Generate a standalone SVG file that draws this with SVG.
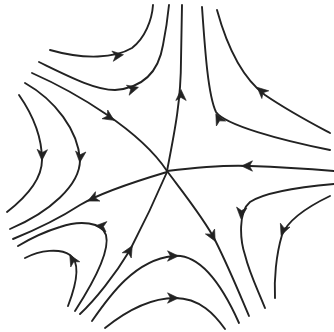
<svg xmlns="http://www.w3.org/2000/svg" width="334" height="332" viewBox="0 0 334 332">
<defs>
<style>
.t{fill:none;stroke:#222;stroke-width:1.9;stroke-linecap:round}
.h{fill:#222;stroke:#222;stroke-width:0.6;stroke-linejoin:round}
</style>
<path id="ah" d="M2.5,0 L-8.5,-5.2 L-5.5,0 L-8.5,5.2 Z"/>
</defs>
<rect width="334" height="332" fill="#fff"/>
<g id="trajectories">
<path class="t" d="M50,50 C85,60 115,58 132,48 C145,38 152,20 153,5"/>
<path class="t" d="M39,62 C70,77 95,90 115,90 C140,88 158,75 163,45 C166,30 168,15 169,5"/>
<path class="t" d="M202,7 C205,50 208,95 216,112 C225,125 280,140 330,150"/>
<path class="t" d="M217,10 C228,50 245,80 265,95 C290,112 315,125 330,133"/>
<path class="t" d="M334,184 C300,187 265,192 250,202 C238,212 240,240 245,255 C250,275 258,290 265,308"/>
<path class="t" d="M330,196 C305,208 288,220 282,235 C276,255 274,280 275,298"/>
<path class="t" d="M92,321 C110,295 135,260 173,256 C200,253 222,285 239,323"/>
<path class="t" d="M105,328 C125,312 150,298 175,298 C200,298 215,315 225,329"/>
<path class="t" d="M75,311 C95,280 110,250 106,235 C102,222 80,220 60,227 C40,233 28,240 18,246"/>
<path class="t" d="M68,306 C78,280 80,262 70,255 C60,248 40,250 25,258"/>
<path class="t" d="M19,95 C35,118 42,140 42,160 C42,180 25,198 7,212"/>
<path class="t" d="M25,83 C55,100 78,130 80,160 C80,185 50,212 10,229"/>
</g>
<g id="separatrices">
<path class="t" d="M167,171 C175,130 181,100 181,60 L182,5"/>
<path class="t" d="M32,73 C75,92 140,130 167,171"/>
<path class="t" d="M167,172 C130,183 100,193 80,205 C60,218 40,228 13,239"/>
<path class="t" d="M167,172 C155,200 143,225 130,250 C115,275 95,300 80,314"/>
<path class="t" d="M167,171 C185,195 205,220 215,240 C230,270 240,295 249,316"/>
<path class="t" d="M167,171 C200,167 230,165 250,166 C280,167 310,169 334,171"/>
</g>
<g id="arrows">
<use href="#ah" class="h" transform="translate(121,55) rotate(-8)"/>
<use href="#ah" class="h" transform="translate(136,88) rotate(-15)"/>
<use href="#ah" class="h" transform="translate(181,92) rotate(-90)"/>
<use href="#ah" class="h" transform="translate(217,116) rotate(-118)"/>
<use href="#ah" class="h" transform="translate(259,89) rotate(-138)"/>
<use href="#ah" class="h" transform="translate(244,166) rotate(180)"/>
<use href="#ah" class="h" transform="translate(241,216) rotate(95)"/>
<use href="#ah" class="h" transform="translate(282,233) rotate(112)"/>
<use href="#ah" class="h" transform="translate(214,239) rotate(62)"/>
<use href="#ah" class="h" transform="translate(176,256) rotate(0)"/>
<use href="#ah" class="h" transform="translate(176,298) rotate(0)"/>
<use href="#ah" class="h" transform="translate(131,248) rotate(-60)"/>
<use href="#ah" class="h" transform="translate(98,226) rotate(-175)"/>
<use href="#ah" class="h" transform="translate(71,257) rotate(-120)"/>
<use href="#ah" class="h" transform="translate(90,200) rotate(155)"/>
<use href="#ah" class="h" transform="translate(42,158) rotate(92)"/>
<use href="#ah" class="h" transform="translate(80,160) rotate(95)"/>
<use href="#ah" class="h" transform="translate(112,119) rotate(33)"/>
</g>
</svg>
